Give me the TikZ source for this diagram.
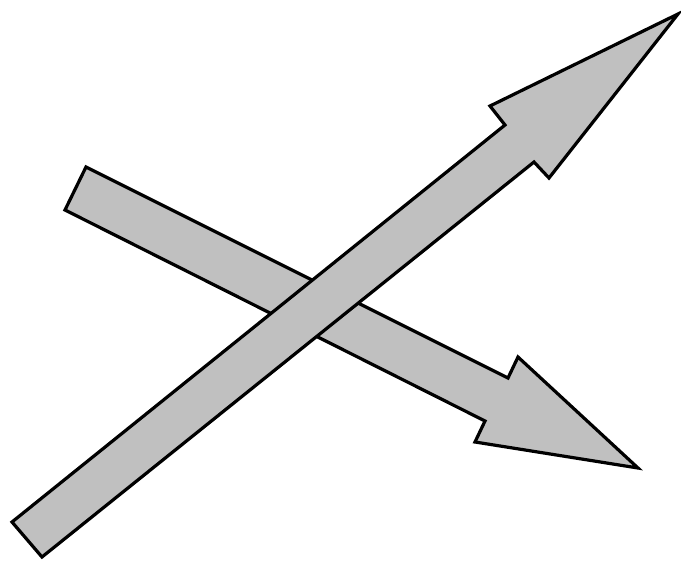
\documentclass[tikz,border=0pt]{standalone}
\usepackage{tikz}
\definecolor{arrowgray}{RGB}{192,192,192}

\begin{document}
\begin{tikzpicture}[
    x=1pt, y=-1pt,
    blockarrow/.style={draw=black, fill=arrowgray, line width=3.2pt, line join=miter},
  ]
    \useasboundingbox (0,0) rectangle (681,562);
    % arrow pointing down to the right (lies underneath)
    \draw[blockarrow] (86,167) -- (508,378) -- (518,357) -- (638,468)
      -- (475,442) -- (485,421) -- (65,210) -- cycle;
    % arrow pointing up to the right (on top)
    \draw[blockarrow] (42,557) -- (534,162) -- (549,178) -- (678,14)
      -- (490,106) -- (505,125) -- (12,522) -- cycle;
\end{tikzpicture}
\end{document}
